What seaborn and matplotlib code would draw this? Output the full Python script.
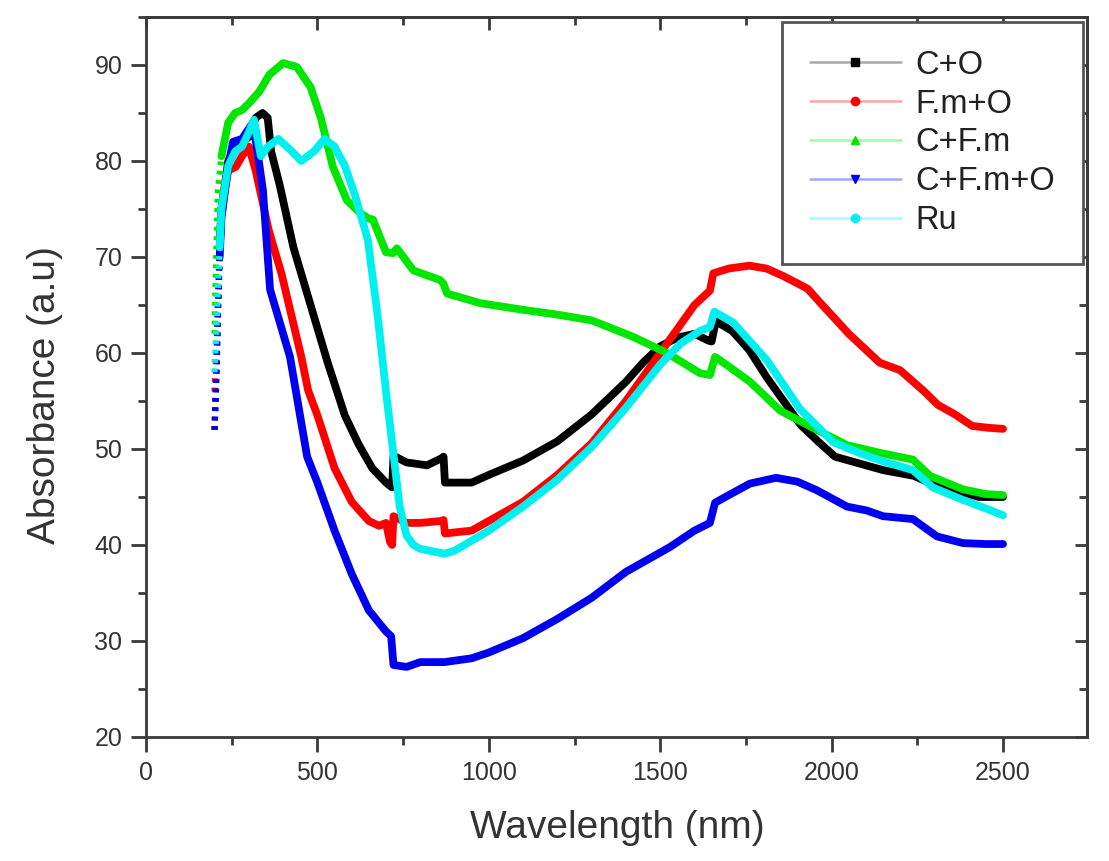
import numpy as np
import pandas as pd
import matplotlib
matplotlib.use("Agg")
import matplotlib.pyplot as plt
from matplotlib.lines import Line2D
from matplotlib.ticker import MultipleLocator
import seaborn as sns

# ---------------- data ----------------
series_names = ["C+O", "F.m+O", "C+F.m", "C+F.m+O", "Ru"]

wl_co = [200, 205, 210, 215, 220, 240, 260, 280, 300, 320, 340, 355, 365, 390, 430, 480, 530, 580,
         620, 660, 700, 718, 722, 760, 820, 860, 868, 872, 950, 1000, 1100, 1200, 1300, 1400, 1450,
         1500, 1550, 1600, 1640, 1650, 1662, 1710, 1760, 1810, 1860, 1910, 1960, 2010, 2060, 2150,
         2240, 2290, 2350, 2430, 2500]
ab_co = [52, 58, 65, 71, 75, 80, 81.5, 82, 82.5, 84.5, 85, 84.5, 81, 77.5, 71, 65, 59, 53.5,
         50.5, 48, 46.5, 46, 49.3, 48.6, 48.3, 49, 49.2, 46.5, 46.5, 47.3, 48.8, 50.8, 53.6, 57, 59,
         60.7, 61.6, 62, 61.3, 61.2, 63.3, 62.3, 60.3, 57.5, 55, 52.5, 50.8, 49.2, 48.7, 47.8,
         47.2, 46.4, 45.8, 45, 45]

wl_fmo = [200, 205, 210, 215, 220, 240, 262, 280, 300, 320, 358, 395, 453, 473, 500, 550, 600, 650,
          680, 700, 712, 718, 722, 760, 800, 860, 868, 872, 950, 1000, 1100, 1200, 1300, 1400, 1500,
          1550, 1600, 1645, 1655, 1700, 1760, 1810, 1860, 1930, 1960, 2050, 2140, 2200, 2270, 2310,
          2360, 2410, 2460, 2500]
ab_fmo = [56, 60, 66, 71, 75, 79, 79.4, 80.5, 81.5, 79, 72.8, 68.3, 59.6, 56.1, 53.5, 48, 44.5, 42.5,
          42, 42.3, 40.3, 40, 43, 42.3, 42.3, 42.5, 42.6, 41.2, 41.5, 42.5, 44.5, 47.3, 50.6, 55, 60,
          62.5, 65, 66.5, 68.3, 68.8, 69.1, 68.8, 68, 66.7, 65.5, 62, 59, 58.2, 56, 54.6,
          53.6, 52.4, 52.2, 52.1]

wl_cfm = [200, 205, 210, 220, 240, 260, 280, 300, 330, 360, 400, 440, 480, 510, 545, 586, 624, 650,
          662, 700, 720, 732, 780, 858, 868, 878, 974, 1100, 1200, 1300, 1420, 1520, 1616, 1645, 1660,
          1700, 1762, 1850, 1946, 2045, 2141, 2237, 2287, 2383, 2450, 2500]
ab_cfm = [62, 70, 77, 80.5, 84, 85, 85.3, 86, 87.2, 89, 90.2, 89.8, 87.7, 84.5, 79.4, 75.9, 74.6, 74,
          73.9, 70.5, 70.4, 70.9, 68.6, 67.6, 67.2, 66.2, 65.2, 64.5, 64, 63.4, 61.7, 60, 57.9, 57.7, 59.6,
          58.6, 57, 54, 52.2, 50.4, 49.6, 48.9, 47.2, 45.8, 45.3, 45.2]

wl_cfmo = [200, 205, 210, 215, 220, 240, 254, 280, 312, 325, 341, 362, 420, 470, 500, 550, 600, 650,
           700, 715, 722, 760, 800, 870, 950, 1000, 1100, 1200, 1300, 1400, 1529, 1600, 1645, 1660,
           1700, 1762, 1838, 1900, 1957, 2045, 2102, 2150, 2237, 2307, 2383, 2450, 2500]
ab_cfmo = [52, 57, 64, 70, 74, 79.5, 82, 82.3, 84, 81, 77, 66.6, 59.6, 49.2, 46.5, 41.5, 37, 33.2,
           31, 30.5, 27.5, 27.3, 27.8, 27.8, 28.2, 28.8, 30.3, 32.3, 34.5, 37.2, 39.8, 41.5, 42.3, 44.4,
           45.2, 46.4, 47, 46.6, 45.7, 44, 43.6, 43, 42.7, 40.9, 40.2, 40.1, 40.1]

wl_ru = [200, 205, 210, 215, 220, 240, 260, 280, 300, 315, 335, 356, 386, 420, 453, 490, 521, 550,
         580, 609, 647, 676, 700, 720, 740, 760, 780, 800, 870, 900, 1000, 1100, 1200, 1300, 1400,
         1500, 1560, 1616, 1645, 1658, 1712, 1810, 1907, 2005, 2080, 2151, 2237, 2295, 2383, 2450, 2500]
ab_ru = [58, 62, 67, 71, 75, 79.5, 81, 81.5, 83, 84.3, 80.5, 81.5, 82.3, 81.2, 80, 81, 82.3, 81.5,
         79.5, 76.5, 71.8, 63.8, 56, 50, 44, 41, 40, 39.6, 39.1, 39.4, 41.5, 44, 46.8, 50.2, 54.3,
         58.8, 61, 62.3, 62.7, 64.3, 63.2, 59.3, 54.2, 50.7, 49.6, 48.7, 47.8, 46, 44.7, 43.8, 43.1]

x_ticks = [0, 500, 1000, 1500, 2000, 2500]
y_ticks = [20, 30, 40, 50, 60, 70, 80, 90]

colors = ["#000000", "#ff0000", "#00e600", "#0000ee", "#00f0f0"]
markers = ["s", "o", "^", "v", "o"]

# ---------------- build long dataframe ----------------
frames = []
for name, wl, ab in zip(series_names,
                        [wl_co, wl_fmo, wl_cfm, wl_cfmo, wl_ru],
                        [ab_co, ab_fmo, ab_cfm, ab_cfmo, ab_ru]):
    frames.append(pd.DataFrame({"Wavelength": wl, "Absorbance": ab, "Sample": name}))
df = pd.concat(frames, ignore_index=True)

# ---------------- figure ----------------
sns.set_style("ticks")
plt.rcParams["font.family"] = ["Liberation Sans", "DejaVu Sans"]

W, H = 1109, 861
fig = plt.figure(figsize=(W / 100, H / 100), dpi=100)
L, R, T, B = 146, 1087, 17, 737
ax = fig.add_axes([L / W, 1 - B / H, (R - L) / W, (B - T) / H])

palette = dict(zip(series_names, colors))
for name in series_names:
    sub = df[df["Sample"] == name]
    head = sub[sub["Wavelength"] <= 220]
    sns.lineplot(data=head, x="Wavelength", y="Absorbance", color=palette[name],
                 linewidth=4.5, linestyle=(0, (0.6, 0.9)), sort=False, estimator=None,
                 legend=False, ax=ax)
    sns.lineplot(data=sub[sub["Wavelength"] >= 215], x="Wavelength", y="Absorbance",
                 color=palette[name], linewidth=5.6, sort=False, estimator=None,
                 legend=False, ax=ax, solid_joinstyle="round", solid_capstyle="round")

ax.set_xlim(0, 2745)
ax.set_ylim(20, 95)
ax.set_xticks(x_ticks)
ax.set_yticks(y_ticks)
ax.xaxis.set_minor_locator(MultipleLocator(250))
ax.yaxis.set_minor_locator(MultipleLocator(5))

spine_c = "#3a3a3a"
for s in ax.spines.values():
    s.set_color(spine_c)
    s.set_linewidth(2.0)

ax.tick_params(axis="both", which="major", direction="out", length=11, width=2,
               color=spine_c, labelsize=18, labelcolor="#333333", pad=6)
ax.tick_params(axis="both", which="minor", direction="out", length=6, width=2, color=spine_c)
ax.tick_params(top=False, right=False)

# inward ticks on top and right (Origin style)
secx = ax.secondary_xaxis("top")
secx.set_xticks(x_ticks)
secx.xaxis.set_minor_locator(MultipleLocator(250))
secx.tick_params(which="major", direction="in", length=9, width=2, color=spine_c, labeltop=False)
secx.tick_params(which="minor", direction="in", length=6, width=2, color=spine_c)
secx.spines["top"].set_color(spine_c)
secx.spines["top"].set_linewidth(2.0)
secy = ax.secondary_yaxis("right")
secy.set_yticks(y_ticks)
secy.yaxis.set_minor_locator(MultipleLocator(5))
secy.tick_params(which="major", direction="in", length=9, width=2, color=spine_c, labelright=False)
secy.tick_params(which="minor", direction="in", length=6, width=2, color=spine_c)
secy.spines["right"].set_color(spine_c)
secy.spines["right"].set_linewidth(2.0)

ax.set_xlabel("Wavelength (nm)", fontsize=28, color="#333333")
ax.set_ylabel("Absorbance (a.u)", fontsize=28, color="#333333")
ax.xaxis.set_label_coords((617 - L) / (R - L), (B - 828) / (B - T))
ax.xaxis.label.set_va("center")
ax.yaxis.set_label_coords((45 - L) / (R - L), (B - 395) / (B - T))
ax.yaxis.label.set_va("center")

# legend
handles = []
for c, m in zip(colors, markers):
    rgba = matplotlib.colors.to_rgba(c, 0.35)
    handles.append(Line2D([], [], color=rgba, linewidth=1.8, marker=m, markersize=6,
                          markerfacecolor=c, markeredgecolor=c))
leg = ax.legend(handles, series_names, loc="upper right",
                bbox_to_anchor=((1083 - L) / (R - L), 1 - (22 - T) / (B - T)),
                borderaxespad=0, fontsize=23.5, frameon=True, fancybox=False,
                framealpha=1, edgecolor="#555555", handlelength=2.8, handletextpad=0.45,
                labelspacing=0.24, borderpad=0.85)
leg.get_frame().set_linewidth(2.0)
for t in leg.get_texts():
    t.set_color("#222222")

fig.savefig("out.png", dpi=100, facecolor="white")
